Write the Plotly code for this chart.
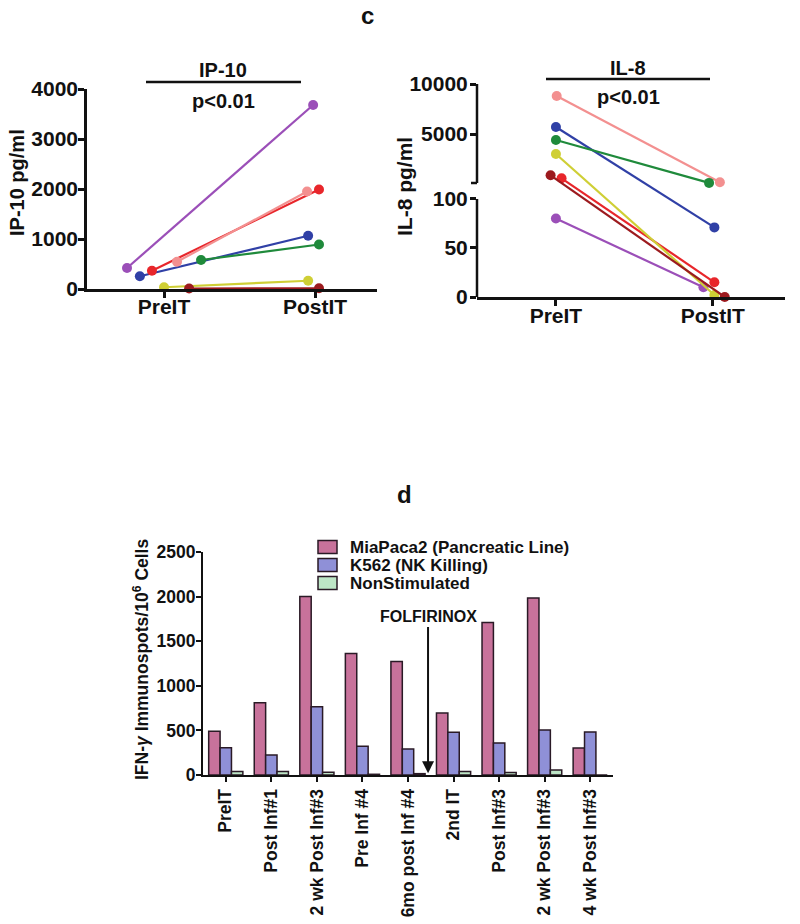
import plotly.graph_objects as go

W, H = 800, 924
FONT = "Liberation Sans, Arial, sans-serif"
INK = "#111111"

# ---------------- Data ----------------
groups = ["PreIT", "PostIT"]
patient_colors = ["#9b4fb8", "#3040a6", "#e8262b", "#f39090", "#1f8a3b", "#cfcf35", "#9c1a1e"]

# IP-10 (pg/ml): purple, blue, red, pink, green, yellow, dark red
ip10_pre = [420, 255, 365, 545, 580, 35, 10]
ip10_post = [3680, 1065, 1990, 1950, 890, 165, 15]
ip10_jitter_pre = [-0.245, -0.16, -0.08, 0.086, 0.245, 0.0, 0.166]
ip10_jitter_post = [-0.013, -0.046, 0.026, -0.053, 0.026, -0.046, 0.026]

# IL-8 (pg/ml): purple, blue, red, pink, green, yellow, dark red
il8_pre = [80, 5700, 570, 8800, 4400, 3000, 870]
il8_post = [10, 71, 15, 170, 110, 2, 0]
il8_jitter_pre = [0.0, 0.0, 0.036, 0.005, 0.0, 0.0, -0.034]
il8_jitter_post = [-0.06, 0.01, 0.01, 0.045, -0.024, 0.01, 0.076]

# IFN-gamma ELISpot
timepoints = ["PreIT", "Post Inf#1", "2 wk Post Inf#3", "Pre Inf #4", "6mo post Inf #4",
              "2nd IT", "Post Inf#3 ", "2 wk Post Inf#3 ", "4 wk Post Inf#3"]
timepoint_labels = ["PreIT", "Post Inf#1", "2 wk Post Inf#3", "Pre Inf #4", "6mo post Inf #4",
                    "2nd IT", "Post Inf#3", "2 wk Post Inf#3", "4 wk Post Inf#3"]
miapaca2 = [490, 810, 2000, 1362, 1272, 694, 1710, 1985, 303]
k562 = [306, 224, 765, 321, 291, 478, 360, 505, 483]
nonstim = [40, 40, 30, 8, 15, 40, 28, 56, 0]
series_names = ["MiaPaca2 (Pancreatic Line)", "K562 (NK Killing)", "NonStimulated"]
bar_colors = ["#c8729b", "#8f90d7", "#bde6c6"]
BAR_EDGE = "#2a1a26"

# broken-axis scale for IL-8: 0-100 linear, gap, 100-10000 linear
IL8_LOW_MAX = 100
IL8_GAP = 16.3
IL8_UPPER_SPAN = 101.0
IL8_TOP = 10000


def il8_scale(v):
    if v <= IL8_LOW_MAX:
        return v
    return IL8_LOW_MAX + IL8_GAP + (v - IL8_LOW_MAX) / (IL8_TOP - IL8_LOW_MAX) * IL8_UPPER_SPAN


def px(x):
    return x / W


def py(y):
    return 1 - y / H


fig = go.Figure()

# ---------------- IP-10 panel ----------------
for i, c in enumerate(patient_colors):
    fig.add_trace(go.Scatter(
        x=[0 + ip10_jitter_pre[i], 1 + ip10_jitter_post[i]],
        y=[ip10_pre[i], ip10_post[i]],
        mode="lines+markers", line=dict(color=c, width=2.2),
        marker=dict(color=c, size=10), showlegend=False, cliponaxis=False,
        xaxis="x", yaxis="y"))

# ---------------- IL-8 panel ----------------
for i, c in enumerate(patient_colors):
    fig.add_trace(go.Scatter(
        x=[0 + il8_jitter_pre[i], 1 + il8_jitter_post[i]],
        y=[il8_scale(il8_pre[i]), il8_scale(il8_post[i])],
        mode="lines+markers", line=dict(color=c, width=2.2),
        marker=dict(color=c, size=10), showlegend=False, cliponaxis=False,
        xaxis="x2", yaxis="y2"))

# ---------------- ELISpot panel ----------------
for name, vals, col in zip(series_names, [miapaca2, k562, nonstim], bar_colors):
    fig.add_trace(go.Bar(
        x=timepoints, y=vals, name=name, showlegend=False,
        marker=dict(color=col, line=dict(color=BAR_EDGE, width=1.5)),
        xaxis="x3", yaxis="y3"))

axis_common = dict(showgrid=False, zeroline=False, showline=True, linecolor=INK, linewidth=2.5,
                   ticks="outside", tickcolor=INK, tickwidth=2.5, ticklen=6, automargin=False,
                   tickfont=dict(family=FONT, size=21, color=INK, weight="bold"))

il8_tickvals = [0, 50, 100, il8_scale(5000), il8_scale(10000)]
il8_ticktext = ["0", "50", "100", "5000", "10000"]

fig.update_layout(
    width=W, height=H, margin=dict(l=0, r=0, t=0, b=0, pad=0), autosize=False,
    paper_bgcolor="white", plot_bgcolor="white",
    font=dict(family=FONT, color=INK),
    barmode="group", bargap=0.25, bargroupgap=0, showlegend=False,
    xaxis=dict(axis_common, domain=[px(87), px(377)], range=[-0.51, 1.41],
               tickvals=[0, 1], ticktext=groups, ticklabelstandoff=-9, anchor="y"),
    yaxis=dict(axis_common, domain=[py(289), py(89)], range=[0, 4000],
               tickvals=[0, 1000, 2000, 3000, 4000], ticklabelstandoff=-4, anchor="x"),
    xaxis2=dict(axis_common, domain=[px(477), px(785)], range=[-0.503, 1.46],
                tickvals=[0, 1], ticktext=groups, ticklabelstandoff=-8, anchor="y2"),
    yaxis2=dict(axis_common, domain=[py(297), py(84)], range=[0, il8_scale(IL8_TOP)],
                tickvals=il8_tickvals, ticktext=il8_ticktext, showline=False,
                ticklabelstandoff=-2, anchor="x2"),
    xaxis3=dict(axis_common, domain=[px(203), px(613)], range=[-0.5, 8.5],
                tickvals=timepoints, ticktext=timepoint_labels, tickangle=-90,
                linewidth=2, tickwidth=2, ticklen=5,
                tickfont=dict(family=FONT, size=17.5, color=INK, weight="bold"), anchor="y3"),
    yaxis3=dict(axis_common, domain=[py(775), py(552)], range=[0, 2500], dtick=500,
                linewidth=2, tickwidth=2, ticklen=5, ticklabelstandoff=-3,
                tickfont=dict(family=FONT, size=17.5, color=INK, weight="bold"), anchor="x3"),
)

# broken y-axis line for IL-8
shapes = [
    dict(type="line", xref="x2 domain", yref="y2", x0=0, x1=0, y0=0, y1=IL8_LOW_MAX,
         line=dict(color=INK, width=2.5)),
    dict(type="line", xref="x2 domain", yref="y2", x0=0, x1=0,
         y0=IL8_LOW_MAX + IL8_GAP, y1=il8_scale(IL8_TOP), line=dict(color=INK, width=2.5)),
    # end tick at the bottom of the upper axis segment
    dict(type="line", xref="x2 domain", yref="y2", xsizemode="pixel", xanchor=0, x0=-6, x1=0,
         y0=IL8_LOW_MAX + IL8_GAP, y1=IL8_LOW_MAX + IL8_GAP, line=dict(color=INK, width=2.5)),
    # significance bars
    dict(type="line", xref="paper", yref="paper", x0=px(146), x1=px(301), y0=py(82), y1=py(82),
         line=dict(color=INK, width=2.5)),
    dict(type="line", xref="paper", yref="paper", x0=px(546), x1=px(710), y0=py(79), y1=py(79),
         line=dict(color=INK, width=2.5)),
]

# legend (drawn manually to match compact row spacing)
legend_rows = [547, 565, 583]
for name, col, ry in zip(series_names, bar_colors, legend_rows):
    shapes.append(dict(type="rect", xref="paper", yref="paper",
                       x0=px(318), x1=px(337), y0=py(ry + 6.5), y1=py(ry - 6.5),
                       fillcolor=col, line=dict(color=BAR_EDGE, width=1.5)))
    fig.add_annotation(x=px(348), y=py(ry), xref="paper", yref="paper", text=name,
                       showarrow=False, xanchor="left", yanchor="middle",
                       font=dict(family=FONT, size=17, color=INK, weight="bold"))
fig.update_layout(shapes=shapes)


def txt(x, y, s, size, angle=0):
    fig.add_annotation(x=px(x), y=py(y), xref="paper", yref="paper", text=s, showarrow=False,
                       textangle=angle, xanchor="center", yanchor="middle",
                       font=dict(family=FONT, size=size, color=INK, weight="bold"))


txt(367, 15, "c", 24)
txt(404, 494, "d", 24)
txt(223, 70, "IP-10", 20)
txt(223, 101, "p<0.01", 20)
txt(628, 68, "IL-8", 20)
txt(628, 97, "p<0.01", 20)
txt(17, 183, "IP-10 pg/ml", 20, -90)
txt(405, 187, "IL-8 pg/ml", 21, -90)
txt(141, 660, "IFN-<i>γ</i> Immunospots/10<sup>6</sup> Cells", 17.5, -90)

# FOLFIRINOX label with arrow pointing to the axis
fig.add_annotation(x=4.44, y=20, xref="x3", yref="y3", ax=4.44, ay=1772, axref="x3", ayref="y3",
                   text="FOLFIRINOX", showarrow=True, arrowhead=2, arrowsize=1.2, arrowwidth=2,
                   arrowcolor=INK, font=dict(family=FONT, size=16, color=INK, weight="bold"))

fig.write_html("out.html", config={"displayModeBar": False},
               post_script="document.body.style.margin='0';")
